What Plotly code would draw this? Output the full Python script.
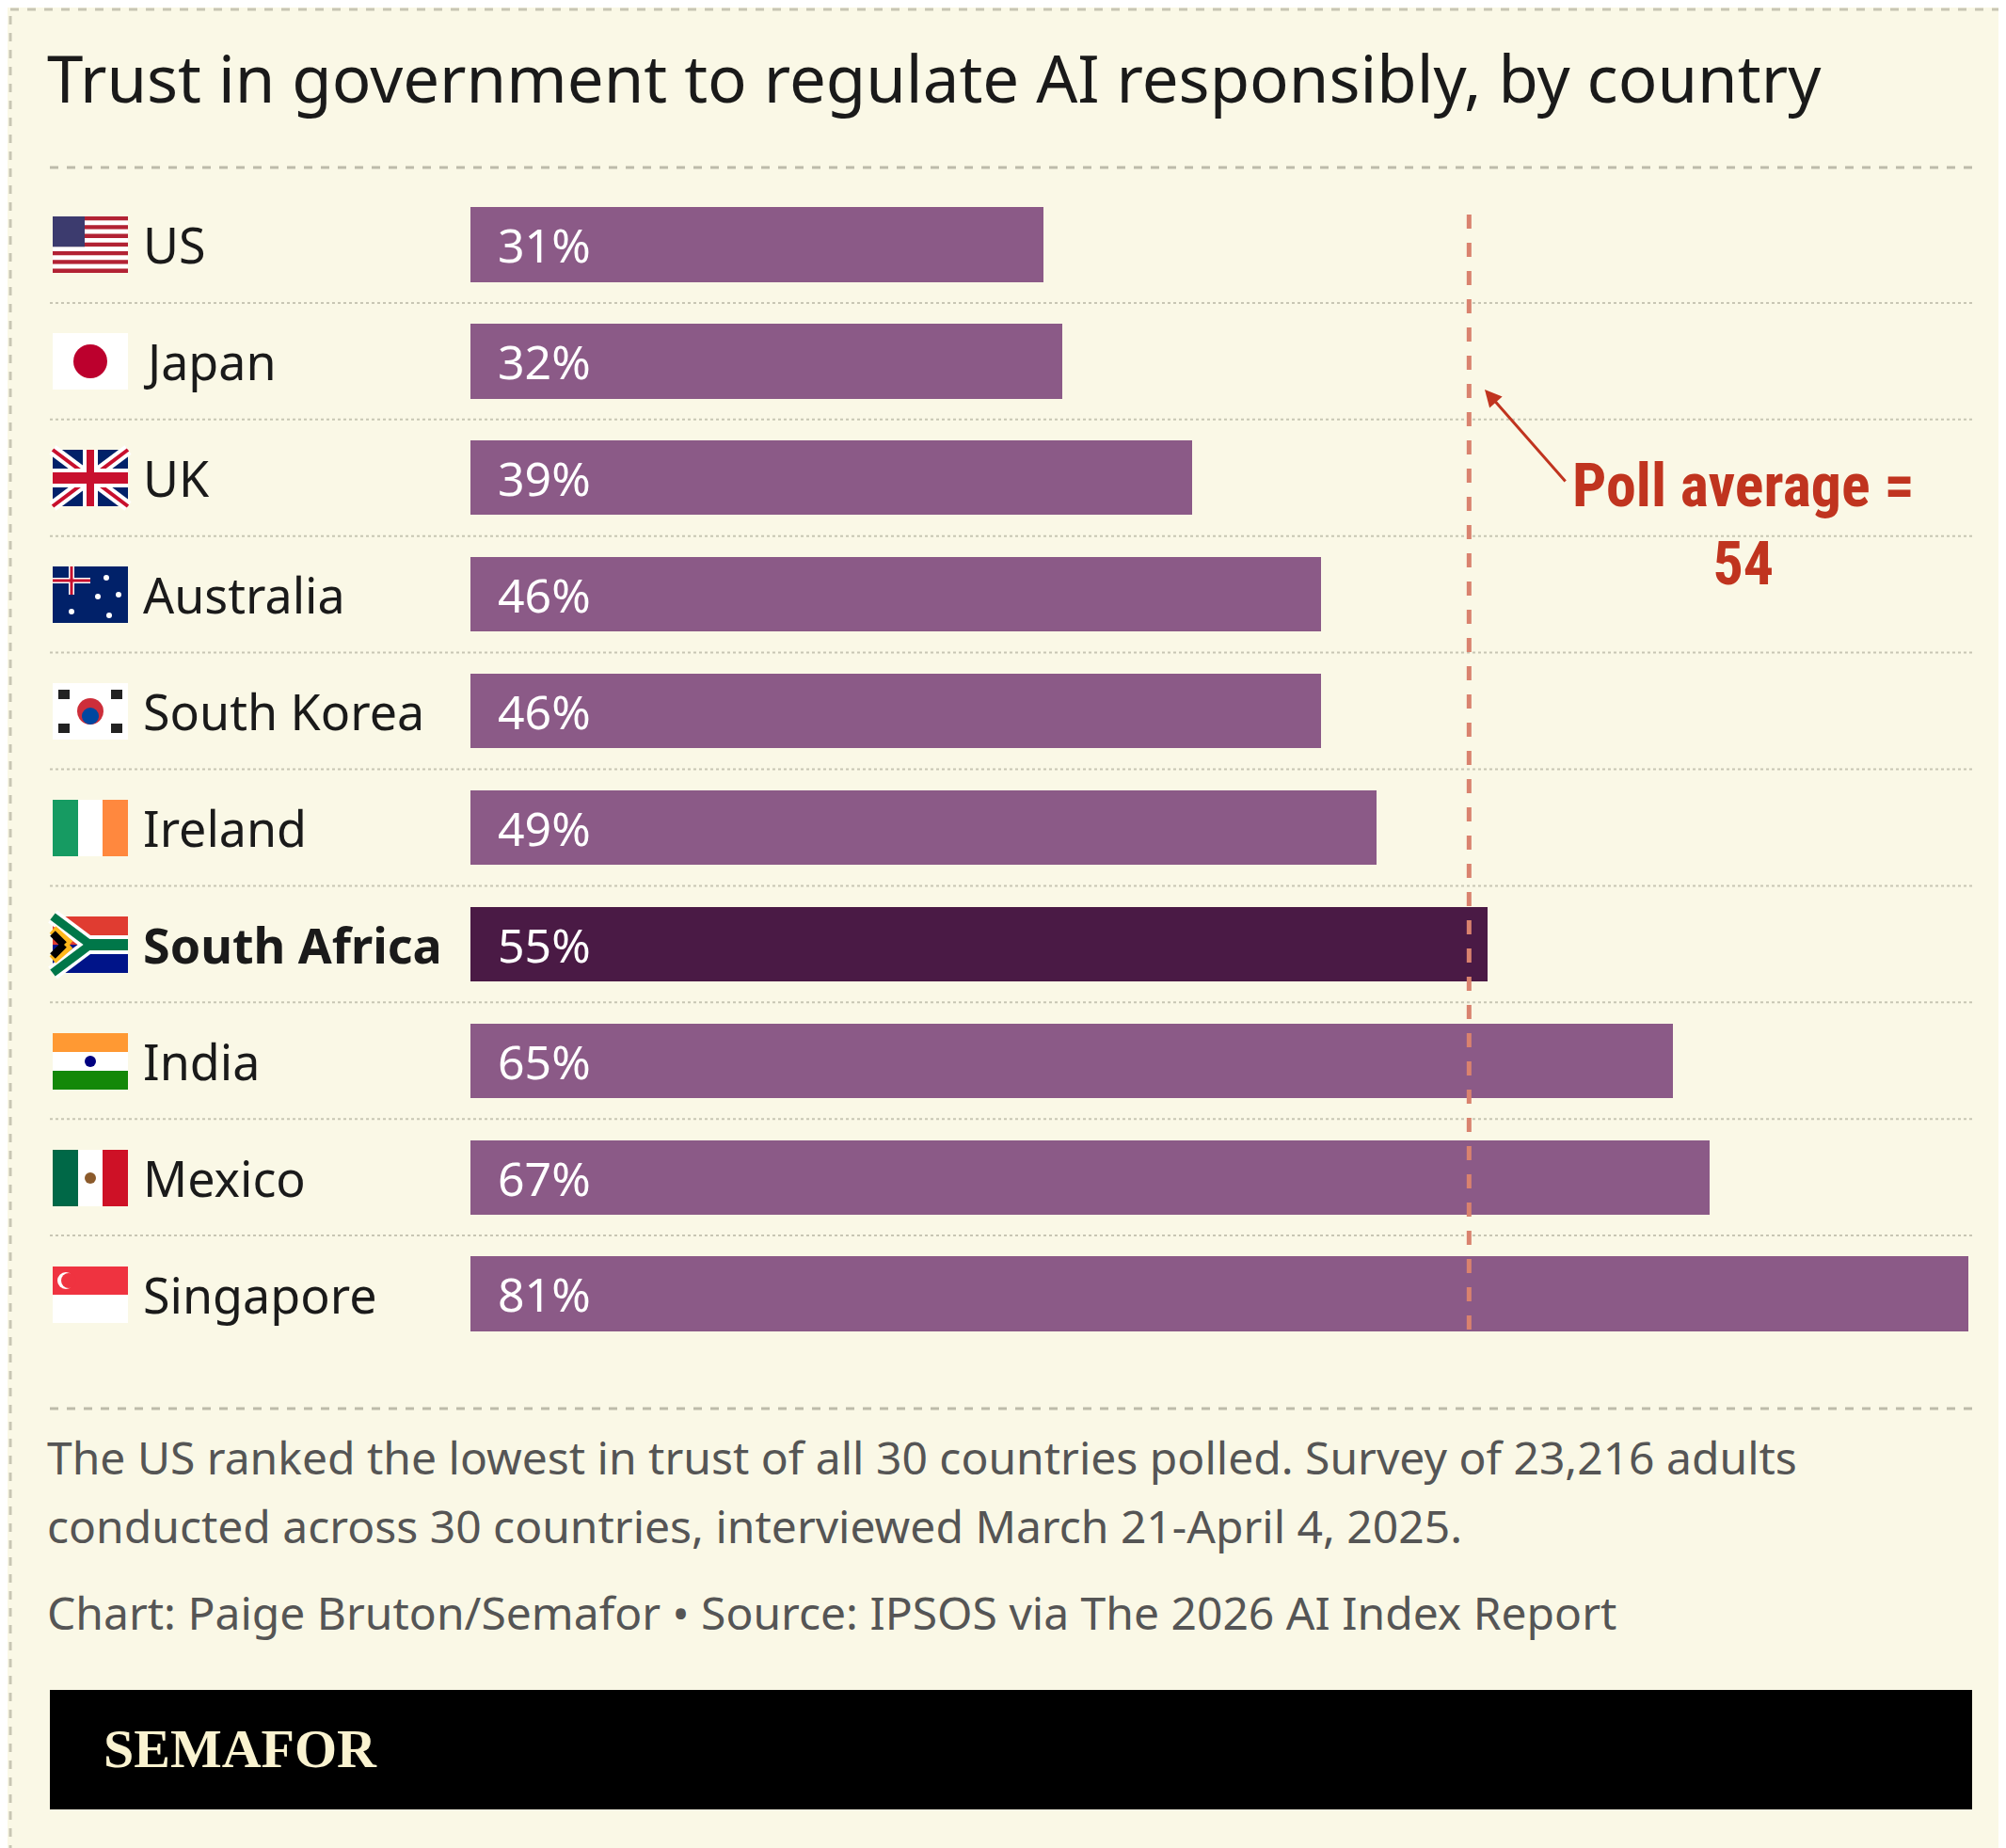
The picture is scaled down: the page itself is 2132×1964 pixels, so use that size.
import plotly.graph_objects as go

countries = ["US", "Japan", "UK", "Australia", "South Korea", "Ireland", "South Africa", "India", "Mexico", "Singapore"]
values = [31, 32, 39, 46, 46, 49, 55, 65, 67, 81]
highlight = "South Africa"
poll_average = 54

W, H = 2132, 1964
BG = "#faf8e6"
BAR = "#8b5a87"
HI = "#4a1a45"
RED = "#c0341f"

def px(x, y):
    return x / W, 1 - y / H

fig = go.Figure()
ypos = list(range(len(countries)))
fig.add_trace(go.Bar(
    x=values, y=ypos, orientation="h", width=0.64,
    marker=dict(color=[HI if c == highlight else BAR for c in countries], line=dict(width=0)),
    text=[f"\u00a0\u00a0{v}%" for v in values], textposition="inside", insidetextanchor="start",
    textfont=dict(family="Noto Sans", size=50, color="white"), cliponaxis=False, hoverinfo="skip"))

y0d, y1d = 1 - 1429 / H, 1 - 190 / H
fig.update_layout(
    width=W, height=H, margin=dict(l=0, r=0, t=0, b=0),
    paper_bgcolor=BG, plot_bgcolor="rgba(0,0,0,0)", showlegend=False,
    xaxis=dict(domain=[492 / W, 2084 / W], range=[0, 81], visible=False, fixedrange=True),
    yaxis=dict(domain=[y0d, y1d], range=[9.5, -0.5], visible=False, fixedrange=True),
    bargap=0,
)

shapes = []
ann = []
shapes.append(dict(type="rect", xref="paper", yref="paper", x0=px(3, 0)[0], x1=px(2129, 0)[0],
                   y0=px(0, 2)[1], y1=px(0, 1961)[1], line=dict(color="#c8c6b4", width=3, dash="dash")))
ann.append(dict(text="Trust in government to regulate AI responsibly, by country", x=px(40, 0)[0], y=px(0, 74)[1],
                xref="paper", yref="paper", xanchor="left", yanchor="middle", showarrow=False,
                font=dict(family="Noto Sans", size=69, color="#1a1a1a")))
for yy in (170, 1489):
    shapes.append(dict(type="line", xref="paper", yref="paper", x0=px(45, 0)[0], x1=px(2088, 0)[0],
                       y0=px(0, yy)[1], y1=px(0, yy)[1], line=dict(color="#bdbbaa", width=3, dash="dash")))
for i in range(len(countries) - 1):
    shapes.append(dict(type="line", xref="paper", yref="y", x0=px(45, 0)[0], x1=px(2088, 0)[0],
                       y0=i + 0.5, y1=i + 0.5, line=dict(color="#c8c6b4", width=2, dash="dot"), layer="below"))
for i, c in enumerate(countries):
    bold = c == highlight
    ann.append(dict(text=f"<b>{c}</b>" if bold else c, x=px(142, 0)[0], y=i, xref="paper", yref="y",
                    xanchor="left", yanchor="middle", showarrow=False,
                    font=dict(family="Noto Sans", size=52, color="#1a1a1a")))

def rect(x0, y0, x1, y1, color):
    a, b = px(x0, y0); c, d = px(x1, y1)
    shapes.append(dict(type="rect", xref="paper", yref="paper", x0=a, x1=c, y0=b, y1=d,
                       fillcolor=color, line=dict(width=0)))
def circ(cx, cy, r, color):
    a, b = px(cx - r, cy - r); c, d = px(cx + r, cy + r)
    shapes.append(dict(type="circle", xref="paper", yref="paper", x0=a, x1=c, y0=b, y1=d,
                       fillcolor=color, line=dict(width=0)))
def line(x0, y0, x1, y1, color, w):
    a, b = px(x0, y0); c, d = px(x1, y1)
    shapes.append(dict(type="line", xref="paper", yref="paper", x0=a, x1=c, y0=b, y1=d, line=dict(color=color, width=w)))

FX0, FX1, FH = 48, 128, 60
for i, c in enumerate(countries):
    cy = 252 + i * 124
    t, b = cy - FH / 2, cy + FH / 2
    if c == "US":
        for k in range(13):
            rect(FX0, t + k * FH / 13, FX1, t + (k + 1) * FH / 13, "#b22234" if k % 2 == 0 else "white")
        rect(FX0, t, FX0 + 34, t + FH * 7 / 13, "#3c3b6e")
    elif c == "Japan":
        rect(FX0, t, FX1, b, "white"); circ(88, cy, 18, "#bc002d")
    elif c == "UK":
        rect(FX0, t, FX1, b, "#012169")
        line(FX0, t, FX1, b, "white", 12); line(FX0, b, FX1, t, "white", 12)
        line(FX0, t, FX1, b, "#c8102e", 4); line(FX0, b, FX1, t, "#c8102e", 4)
        rect(FX0, cy - 10, FX1, cy + 10, "white"); rect(80, t, 96, b, "white")
        rect(FX0, cy - 6, FX1, cy + 6, "#c8102e"); rect(84, t, 92, b, "#c8102e")
    elif c == "Australia":
        rect(FX0, t, FX1, b, "#012169")
        rect(FX0, t + 12, 88, t + 18, "white"); rect(65, t, 71, t + 30, "white")
        rect(FX0, t + 13.5, 88, t + 16.5, "#c8102e"); rect(66.5, t, 69.5, t + 30, "#c8102e")
        for (sx, sy) in [(68, b - 12), (105, t + 12), (118, cy), (108, b - 8), (96, cy + 2)]:
            circ(sx, sy, 3, "white")
    elif c == "South Korea":
        rect(FX0, t, FX1, b, "white"); circ(88, cy, 14, "#cd2e3a")
        circ(88, cy + 5, 9, "#0047a0")
        for (sx, sy) in [(60, t + 12), (116, t + 12), (60, b - 12), (116, b - 12)]:
            rect(sx - 6, sy - 5, sx + 6, sy + 5, "#222")
    elif c == "Ireland":
        rect(FX0, t, 75, b, "#169b62"); rect(75, t, 101, b, "white"); rect(101, t, FX1, b, "#ff883e")
    elif c == "South Africa":
        rect(FX0, t, FX1, cy, "#e03c31"); rect(FX0, cy, FX1, b, "#001489")
        line(FX0, t, 88, cy, "white", 16); line(FX0, b, 88, cy, "white", 16)
        rect(80, cy - 10, FX1, cy + 10, "white")
        line(FX0, t, 88, cy, "#007749", 9); line(FX0, b, 88, cy, "#007749", 9)
        rect(84, cy - 6, FX1, cy + 6, "#007749")
        line(FX0, t + 14, 66, cy, "#ffb81c", 10); line(FX0, b - 14, 66, cy, "#ffb81c", 10)
        line(FX0, t + 18, 60, cy, "black", 8); line(FX0, b - 18, 60, cy, "black", 8)
    elif c == "India":
        rect(FX0, t, FX1, t + 20, "#ff9933"); rect(FX0, t + 20, FX1, t + 40, "white"); rect(FX0, t + 40, FX1, b, "#138808")
        circ(88, cy, 6, "#000080")
    elif c == "Mexico":
        rect(FX0, t, 75, b, "#006847"); rect(75, t, 101, b, "white"); rect(101, t, FX1, b, "#ce1126")
        circ(88, cy, 6, "#8b5a2b")
    elif c == "Singapore":
        rect(FX0, t, FX1, cy, "#ef3340"); rect(FX0, cy, FX1, b, "white")
        circ(62, t + 15, 9, "white"); circ(65, t + 15, 8, "#ef3340")

shapes.append(dict(type="line", xref="x", yref="paper", x0=poll_average, x1=poll_average,
                   y0=px(0, 1405)[1], y1=px(0, 210)[1], line=dict(color="#d9826e", width=5, dash="dash")))
ann.append(dict(text=f"<b>Poll average =<br>{poll_average}</b>", x=px(1845, 0)[0], y=px(0, 550)[1],
                xref="paper", yref="paper", xanchor="center", yanchor="middle", showarrow=False,
                font=dict(family="Roboto Condensed, Liberation Sans Narrow, Noto Sans", size=64, color=RED),
                align="center"))
ann.append(dict(x=px(1570, 0)[0], y=px(0, 406)[1], ax=87, ay=99,
                xref="paper", yref="paper", text="", showarrow=True,
                arrowhead=2, arrowsize=1.2, arrowwidth=3, arrowcolor=RED))
for txt, yy in [("The US ranked the lowest in trust of all 30 countries polled. Survey of 23,216 adults", 1540),
                ("conducted across 30 countries, interviewed March 21-April 4, 2025.", 1613),
                ("Chart: Paige Bruton/Semafor • Source: IPSOS via The 2026 AI Index Report", 1705)]:
    ann.append(dict(text=txt, x=px(40, 0)[0], y=px(0, yy)[1], xref="paper", yref="paper", xanchor="left",
                    yanchor="middle", showarrow=False, font=dict(family="Noto Sans", size=48, color="#555")))
rect(45, 1788, 2088, 1915, "black")
ann.append(dict(text="<b>SEMAFOR</b>", x=px(100, 0)[0], y=px(0, 1850)[1], xref="paper", yref="paper",
                xanchor="left", yanchor="middle", showarrow=False,
                font=dict(family="Liberation Serif", size=58, color="#faf3d0")))

fig.update_layout(shapes=shapes, annotations=ann)
fig.write_html("out.html")
